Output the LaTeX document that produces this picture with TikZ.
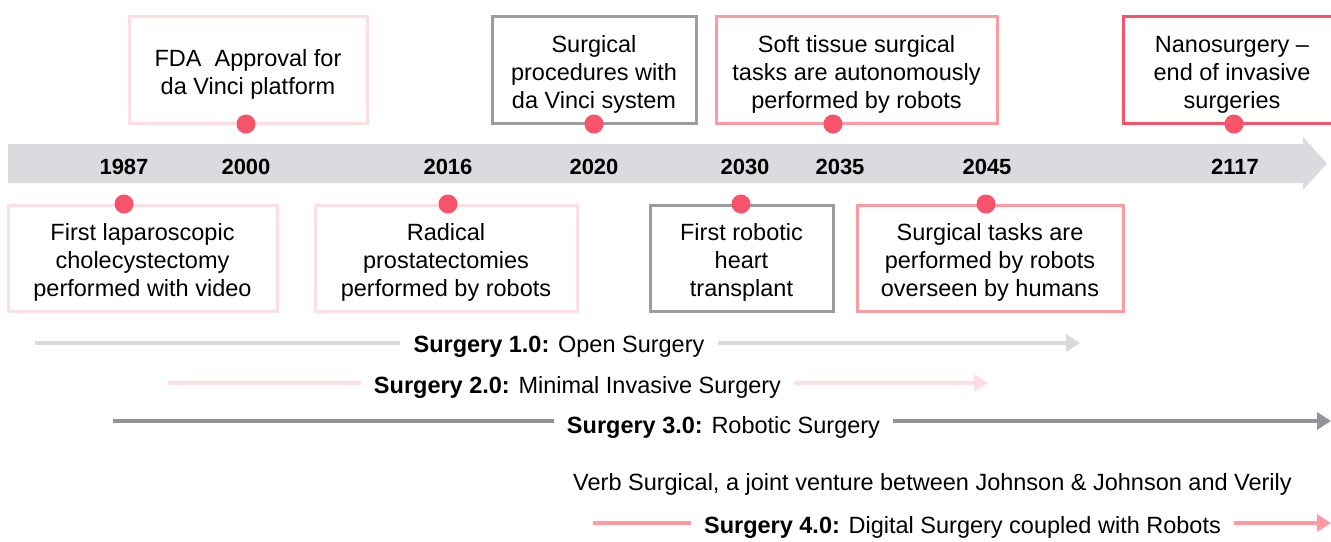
\documentclass[tikz,border=0pt]{standalone}
\usepackage{fontspec}
\setmainfont{Liberation Sans}
\usetikzlibrary{arrows.meta}
\definecolor{bandgray}{HTML}{DADADF}
\definecolor{lpink}{HTML}{FFDDE1}
\definecolor{mgray}{HTML}{9B9BA1}
\definecolor{mpink}{HTML}{FF9AA2}
\definecolor{dotred}{HTML}{F8536A}
\definecolor{eraone}{HTML}{D9D9DD}
\definecolor{erathree}{HTML}{939399}
\begin{document}
\begin{tikzpicture}[x=1pt,y=-1pt,
  box/.style={draw, line width=3pt, fill=white, inner sep=0pt},
  topbox/.style={box, minimum height=107pt},
  botbox/.style={box, minimum height=106pt},
  boxtxt/.style={align=center, font=\fontsize{23.5}{28}\selectfont, inner sep=0pt},
  dot/.style={circle, fill=dotred, minimum size=19pt, inner sep=0pt},
  year/.style={font=\fontsize{22}{26}\selectfont\bfseries},
  lbl/.style={font=\fontsize{23.5}{28}\selectfont, inner xsep=13pt, inner ysep=0pt},
  era/.style={line width=4pt},
  tip/.style={-{Triangle[length=14pt,width=17pt]}}
]
\useasboundingbox (0,0) rectangle (1331,541);
\clip (0,0) rectangle (1331,541);

% timeline band
\fill[bandgray] (8,144) -- (1303,144) -- (1303,137) -- (1327,163.5) -- (1303,190) -- (1303,183) -- (8,183) -- cycle;

% years
\node[year] (y1987) at (124,167) {1987};
\node[year] (y2000) at (246,167) {2000};
\node[year] (y2016) at (448,167) {2016};
\node[year] (y2020) at (594,167) {2020};
\node[year] (y2030) at (745,167) {2030};
\node[year] (y2035) at (840,167) {2035};
\node[year] (y2045) at (987,167) {2045};
\node[year] (y2117) at (1235,167) {2117};

% top boxes
\node[topbox, draw=lpink, minimum width=238pt] (fda) at (248,70) {};
\node[topbox, draw=mgray, minimum width=204pt] (proc) at (594,70) {};
\node[topbox, draw=mpink, minimum width=281pt] (soft) at (856.5,70) {};
\node[topbox, draw=dotred, minimum width=218pt] (nano) at (1232,70) {};
\node[boxtxt] (fdat) at ([yshift=-4.5pt]fda.center) {FDA\ \ Approval for\\da Vinci platform};
\node[boxtxt] (proct) at ([yshift=-4.5pt]proc.center) {Surgical\\procedures with\\da Vinci system};
\node[boxtxt] (softt) at ([yshift=-4.5pt]soft.center) {Soft tissue surgical\\tasks are autonomously\\performed by robots};
\node[boxtxt] (nanot) at ([yshift=-4.5pt]nano.center) {Nanosurgery --\\end of invasive\\surgeries};

\node[dot] (d2000) at (246,124) {};
\node[dot] (d2020) at (594,124) {};
\node[dot] (d2035) at (833,124) {};
\node[dot] (d2117) at (1234,124) {};

% bottom boxes
\node[botbox, draw=lpink, minimum width=269pt] (lap) at (142.5,258) {};
\node[botbox, draw=lpink, minimum width=262pt] (rad) at (446,258) {};
\node[botbox, draw=mgray, minimum width=183pt] (heart) at (741.5,258) {};
\node[botbox, draw=mpink, minimum width=266pt] (tasks) at (990,258) {};
\node[boxtxt] (lapt) at ([yshift=-4.5pt]lap.center) {First laparoscopic\\cholecystectomy\\performed with video};
\node[boxtxt] (radt) at ([yshift=-4.5pt]rad.center) {Radical\\prostatectomies\\performed by robots};
\node[boxtxt] (heartt) at ([yshift=-4.5pt]heart.center) {First robotic\\heart\\transplant};
\node[boxtxt] (taskst) at ([yshift=-4.5pt]tasks.center) {Surgical tasks are\\performed by robots\\overseen by humans};

\node[dot] (d1987) at (124,204) {};
\node[dot] (d2016) at (448,204) {};
\node[dot] (d2030) at (741,204) {};
\node[dot] (d2045) at (986,204) {};

% eras
\node[lbl] (s1) at (559,346.5) {\textbf{Surgery 1.0:} Open Surgery};
\coordinate (s1a) at (35,343);
\coordinate (s1b) at (1080,343);
\draw[era, draw=eraone] (s1a) -- (s1a -| s1.west);
\draw[era, draw=eraone, tip] (s1b -| s1.east) -- (s1b);

\node[lbl] (s2) at (577.5,387) {\textbf{Surgery 2.0:} Minimal Invasive Surgery};
\coordinate (s2a) at (168,383);
\coordinate (s2b) at (988,383);
\draw[era, draw=lpink] (s2a) -- (s2a -| s2.west);
\draw[era, draw=lpink, tip] (s2b -| s2.east) -- (s2b);

\node[lbl] (s3) at (723.5,427.5) {\textbf{Surgery 3.0:} Robotic Surgery};
\coordinate (s3a) at (113,421);
\coordinate (s3b) at (1331,421);
\draw[era, draw=erathree] (s3a) -- (s3a -| s3.west);
\draw[era, draw=erathree, tip] (s3b -| s3.east) -- (s3b);

\node[lbl] (verb) at (932.5,484.5) {Verb Surgical, a joint venture between Johnson \& Johnson and Verily};

\node[lbl] (s4) at (962.5,527) {\textbf{Surgery 4.0:} Digital Surgery coupled with Robots};
\coordinate (s4a) at (593,523);
\coordinate (s4b) at (1331,523);
\draw[era, draw=mpink] (s4a) -- (s4a -| s4.west);
\draw[era, draw=mpink, tip] (s4b -| s4.east) -- (s4b);
\end{tikzpicture}
\end{document}
